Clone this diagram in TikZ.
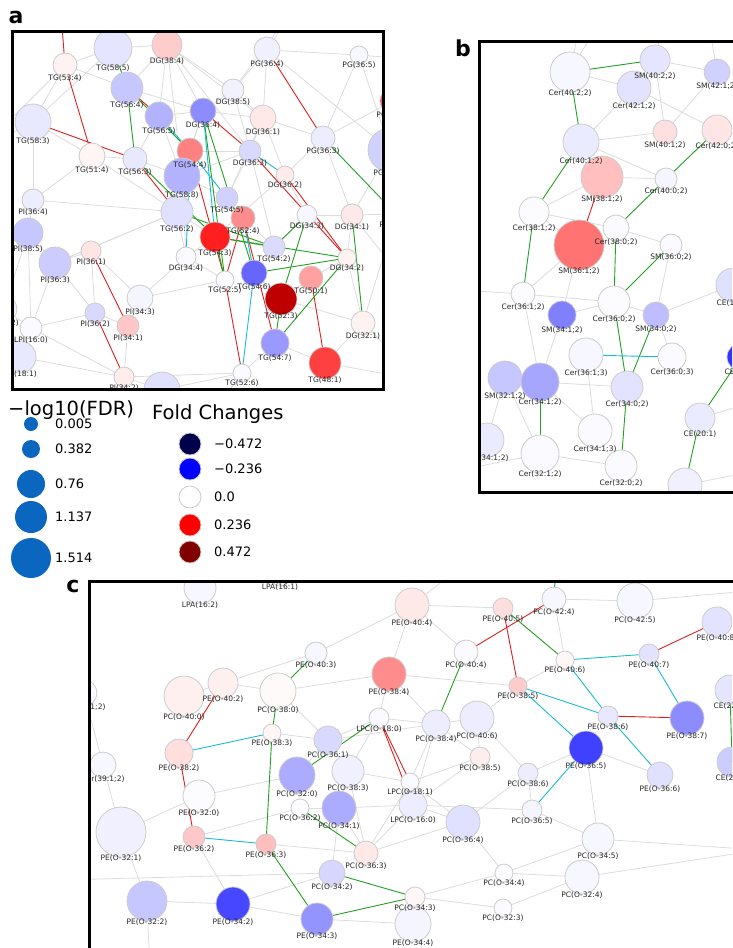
\documentclass[tikz,border=0pt]{standalone}
\usepackage{fontspec}
\setmainfont{DejaVu Sans}
\usetikzlibrary{positioning}
\definecolor{edgegrey}{HTML}{DCDCDC}
\definecolor{edgered}{HTML}{DC2020}
\definecolor{edgegreen}{HTML}{22A022}
\definecolor{edgecyan}{HTML}{18BCD0}
\definecolor{nodering}{HTML}{CCCCCC}
\definecolor{fdrblue}{HTML}{0A66BE}
\definecolor{fcnavy}{HTML}{00004C}
\definecolor{fcdark}{HTML}{800000}

% lipid lists: name/x/y/radius/fill/label
\def\lipidsA{tg534/65/65/12/red!5/TG(53:4),
  tg585/113/48/19/blue!10/TG(58:5),
  dg384/167/45/15/red!20/DG(38:4),
  tg564/127/88/16/blue!22/TG(56:4),
  tg583/33/122/18/blue!9/TG(58:3),
  tg565/159/116/14/blue!30/TG(56:5),
  dg364/203/111/13/blue!45/DG(36:4),
  tg544/190/151/13/red!50/TG(54:4),
  tg514/92/156/13/red!4/TG(51:4),
  tg563/135/159/12/blue!9/TG(56:3),
  tg588/182/176/18/blue!30/TG(58:8),
  pi364/33/200/11/blue!7/PI(36:4),
  tg562/177/212/16/blue!12/TG(56:2),
  pg364/267/50/13/blue!6/PG(36:4),
  pg365/359/55/9/blue!3/PG(36:5),
  dg385/233/90/11/blue!5/DG(38:5),
  dg361/263/118/13/red!9/DG(36:1),
  pg363/323/138/12/blue!7/PG(36:3),
  dg363/250/151/11/blue!15/DG(36:3),
  dg362/285/175/9/red!8/DG(36:2),
  pg341/393/101/13/red/PG(34:1),
  pg342/390/150/22/blue!18/PG(34:2),
  pg343/396/214/10/blue!5/PG(34:3),
  tg545/227/198/11/blue!18/TG(54:5),
  pi385/28/233/15/blue!22/PI(38:5),
  pi363/55/263/16/blue!20/PI(36:3),
  pi361/91/251/10/red!10/PI(36:1),
  pi343/140/298/13/blue!4/PI(34:3),
  pi362/95/313/10/blue!15/PI(36:2),
  pi341/128/326/11/red!22/PI(34:1),
  lpi160/31/328/11/blue!2/LPI(16:0),
  pi382/4/309/13/blue!6/PI(38:2),
  lpi181/20/357/16/blue!9/LPI(18:1),
  pi342/124/377/10/red!7/PI(34:2),
  pi321/162/390/18/blue!12/{},
  dg344/186/257/10/blue!2/DG(34:4),
  tg524/243/218/12/red!45/TG(52:4),
  tg543/215/237/15/red!88/TG(54:3),
  tg542/274/247/11/blue!14/TG(54:2),
  dg343/307/215/10/blue!3/DG(34:3),
  dg341/352/215/11/red!9/DG(34:1),
  dg342/347/258/9/red!5/DG(34:2),
  tg525/225/280/9/blue!2/TG(52:5),
  tg546/254/273/13/blue!60/TG(54:6),
  tg501/311/278/12/red!37/TG(50:1),
  tg523/281/299/16/red!75!black/TG(52:3),
  tg547/275/343/14/blue!40/TG(54:7),
  dg321/363/323/12/red!5/DG(32:1),
  tg526/242/373/9/blue!2/TG(52:6),
  tg481/325/363/16/red!75/TG(48:1)}

\def\lipidsB{cer4022/570/72/20/blue!3/Cer(40:2;2),
  sm4022/655/60/15/blue!10/SM(40:2;2),
  sm4212/717/72/13/blue!18/SM(42:1;2),
  cer4212/634/88/17/blue!11/Cer(42:1;2),
  sm4012/665/132/12/red!12/SM(40:1;2),
  cer4202/717/130/15/red!10/Cer(42:0;2),
  cer4012/581/142/18/blue!8/Cer(40:1;2),
  sm3812/602/177/21/red!25/SM(38:1;2),
  cer4002/666/179/11/blue!4/Cer(40:0;2),
  cer3812/534/212/15/blue!1/Cer(38:1;2),
  sm3612/579/245/25/red!55/SM(36:1;2),
  cer3802/616/228/13/blue!2/Cer(38:0;2),
  sm3602/671/245/11/blue!2/SM(36:0;2),
  cer3612/523/294/12/blue!1/Cer(36:1;2),
  cer3602/614/302/16/blue!1/Cer(36:0;2),
  sm3412/562/315/14/blue!50/SM(34:1;2),
  sm3402/656/315/13/blue!26/SM(34:0;2),
  cer3613/586/355/17/blue!3/Cer(36:1;3),
  cer3603/672/357/14/blue!2/Cer(36:0;3),
  sm3212/505/378/17/blue!22/SM(32:1;2),
  cer3412/540/382/19/blue!35/Cer(34:1;2),
  cer3402/627/387/16/blue!11/Cer(34:0;2),
  ce201/700/418/15/blue!8/CE(20:1),
  cer3413/595/431/17/blue!2/Cer(34:1;3),
  cer3212/540/454/19/blue!2/Cer(32:1;2),
  cer3202/621/466/16/blue!2/Cer(32:0;2),
  cerx/487/440/17/blue!8/Cer(34:1;2),
  ce181/733/285/17/blue!12/CE(18:1),
  ce182/741/357/14/blue!80/CE(18:2),
  ce203/685/485/17/blue!6/{}}

\def\lipidsC{lpa162/200/588/16/blue!3/LPA(16:2),
  lpa161/280/576/10/blue!3/LPA(16:1),
  peo402/223/683/15/red!6/PE(O-40:2),
  pco400/184/696/20/red!6/PC(O-40:0),
  pco380/278/691/18/red!2/PC(O-38:0),
  peo403/316/653/11/blue!3/PE(O-40:3),
  peo383/272/733/9/red!4/PE(O-38:3),
  peo382/179/753/14/red!13/PE(O-38:2),
  cer3812c/84/693/13/blue!2/Cer(38:1;2),
  cer3912/103/765/13/blue!3/Cer(39:1;2),
  peo404/412/605/17/red!9/PE(O-40:4),
  peo405/503/608/10/red!13/PE(O-40:5),
  pco404/466/652/12/blue!2/PC(O-40:4),
  peo384/389/674/17/red!45/PE(O-38:4),
  peo385/518/686/9/red!20/PE(O-38:5),
  lpco180/379/718/10/blue!2/LPC(O-18:0),
  pco384/436/724/14/blue!7/PC(O-38:4),
  pco406/477/718/17/blue!7/PC(O-40:6),
  pco361/328/740/14/blue!15/PC(O-36:1),
  pco385/480/757/10/red!7/PC(O-38:5),
  pco424/554/599/12/blue!3/PC(O-42:4),
  pco425/635/601/18/blue!3/PC(O-42:5),
  peo408/717/622/15/blue!11/PE(O-40:8),
  peo406/565/660/9/red!3/PE(O-40:6),
  peo407/649/654/10/blue!11/PE(O-40:7),
  peo386/608/716/10/blue!9/PE(O-38:6),
  peo387/687/718/17/blue!45/PE(O-38:7),
  peo365/586/748/17/blue!75/PE(O-36:5),
  ce226/730/690/15/blue!10/CE(22:6),
  ce225/732/762/15/blue!20/CE(22:5),
  peo320/199/796/16/blue!1/PE(O-32:0),
  peo321/121/832/25/blue!6/PE(O-32:1),
  peo362/194/837/11/red!22/PE(O-36:2),
  peo363/266/844/10/red!25/PE(O-36:3),
  peo322/147/901/20/blue!22/PE(O-32:2),
  peo342/233/904/17/blue!72/PE(O-34:2),
  peo343/317/919/16/blue!42/PE(O-34:3),
  pco320/297/775/18/blue!33/PC(O-32:0),
  pco383/348/771/16/blue!6/PC(O-38:3),
  lpco181/410/782/9/blue!2/LPC(O-18:1),
  lpco160/413/805/14/blue!7/LPC(O-16:0),
  pco362/300/808/9/blue!1/PC(O-36:2),
  pco341/339/808/17/blue!33/PC(O-34:1),
  pco364/463/822/17/blue!12/PC(O-36:4),
  pco363/366/853/12/red!9/PC(O-36:3),
  pco342/332/873/13/blue!16/PC(O-34:2),
  pco344/504/873/9/blue!1/PC(O-34:4),
  pco343/415/897/10/red!3/PC(O-34:3),
  pco323/503/908/9/blue!2/PC(O-32:3),
  peo344/413/924/18/blue!4/PE(O-34:4),
  pco386/528/773/10/blue!7/PC(O-38:6),
  pco365/532/810/10/blue!4/PC(O-36:5),
  peo366/660/775/13/blue!12/PE(O-36:6),
  pco345/598/839/16/blue!3/PC(O-34:5),
  pco324/582/877/17/blue!3/PC(O-32:4)}

\begin{document}
\begin{tikzpicture}[
    x=1pt, y=-1pt,
    % node styles
    lipid/.style={circle, draw=nodering, line width=0.8pt, inner sep=0pt},
    lab/.style={font=\fontsize{7.5}{8}\selectfont, inner sep=0pt, text=black!85},
    frame/.style={draw=black, line width=3pt},
    panel/.style={font=\fontsize{22}{24}\selectfont\bfseries, inner sep=0pt},
    legtitle/.style={font=\fontsize{19.5}{22}\selectfont, inner sep=0pt},
    legnum/.style={font=\fontsize{13}{15}\selectfont, inner sep=0pt},
    % edge styles
    gedge/.style={draw=edgegrey, line width=0.8pt},
    redge/.style={draw=edgered, line width=0.9pt},
    gnedge/.style={draw=edgegreen, line width=0.9pt},
    cyedge/.style={draw=edgecyan, line width=0.9pt},
]
\path[use as bounding box] (0,0) rectangle (732,948);

% ============================================================================
% PANEL A : glycerolipids
% ============================================================================
\begin{scope}
\clip (13.5,32.5) rectangle (381.5,387.5);
\foreach \nm/\x/\y/\rad/\col/\txt in \lipidsA {\coordinate (\nm) at (\x,\y);}
% free ends leaving the frame
\coordinate (oa0) at (60,0);   \coordinate (oa1) at (150,0);
\coordinate (oa2) at (300,0);  \coordinate (oa3) at (420,60);
\coordinate (oa4) at (420,300); \coordinate (oa5) at (-20,150);
\coordinate (oa6) at (-20,260); \coordinate (oa7) at (200,430);
\coordinate (oa8) at (420,380);

\foreach \a/\b in {tg585/tg534, tg585/dg384, tg585/tg564, tg585/tg583, dg384/tg564,
  dg384/dg364, dg384/dg385, dg384/tg565, dg384/dg363, dg384/dg361, dg384/tg588,
  tg534/tg583, tg534/tg564, tg583/pi364, tg583/tg514, tg514/tg563, tg514/pi364,
  tg563/tg588, tg563/tg565, tg564/dg364, tg565/dg364, tg565/tg588, dg364/dg385,
  dg364/dg361, dg364/tg544, dg385/pg364, dg385/dg361, dg385/dg363, pg364/pg365,
  pg364/dg361, pg364/pg342, pg365/pg342, pg365/pg363, dg361/pg363, dg361/dg362,
  dg361/dg363, pg363/dg362, pg363/dg341, pg363/pg341, dg363/tg544, dg363/tg588,
  dg362/tg543, dg362/dg343, tg588/tg562, tg588/tg545, tg562/pi364, tg562/pi363,
  tg562/dg344, tg562/tg543, dg344/pi343, dg344/tg525, dg344/tg543, tg545/tg524,
  tg545/dg363, tg524/tg542, tg542/dg343, dg343/dg341, dg341/dg342, dg342/tg501,
  dg342/dg321, tg501/tg523, tg523/tg546, tg523/dg321, tg547/tg526, tg547/tg481,
  tg481/dg321, tg526/pi342, pi364/pi385, pi385/pi363, pi385/lpi160, pi385/pi382,
  pi363/pi361, pi363/lpi160, pi363/pi362, pi361/pi343, pi361/pi362, pi343/pi341,
  pi343/tg525, pi362/lpi160, pi362/pi341, lpi160/lpi181, lpi160/pi342, lpi181/pi342,
  pi342/pi321, pi341/pi342, pi321/tg526, pi382/lpi160, pi382/lpi181, tg514/tg562,
  tg585/oa1, pg364/oa2, pg365/oa3, dg341/oa4, tg583/oa5, pi385/oa6, tg526/oa7,
  dg321/oa8, tg481/oa8, dg385/oa2, tg534/oa5, dg364/tg588, dg363/tg542, pg342/dg341,
  pi363/tg562, tg588/dg344, dg361/tg545, pg343/dg341, pg343/dg321}
  \draw[gedge] (\a) -- (\b);
\foreach \a/\b in {tg534/oa0, tg534/tg514, tg583/tg563, tg564/tg565, tg563/tg562,
  pg364/pg363, dg364/dg363, dg363/dg342, dg362/dg342, tg524/tg525, tg544/tg525,
  tg525/tg526, tg524/tg547, tg501/tg481, pi361/pi341, pi362/pi342}
  \draw[redge] (\a) -- (\b);
\foreach \a/\b in {tg585/tg564, tg564/tg563, tg564/tg544, tg563/tg543, dg364/tg525,
  dg364/tg546, tg543/tg542, tg543/dg342, tg543/tg525, tg546/dg342, tg523/dg343,
  tg547/tg523, tg547/dg342, dg341/dg321, dg343/tg542, pg363/pg343, tg562/tg542}
  \draw[gnedge] (\a) -- (\b);
\foreach \a/\b in {tg565/tg544, tg544/tg545, dg363/dg362, tg544/dg344, tg546/tg526,
  dg364/tg543, tg524/tg546}
  \draw[cyedge] (\a) -- (\b);

\foreach \nm/\x/\y/\rad/\col/\txt in \lipidsA
  \node[lipid, fill=\col, minimum size={2*\rad*1pt}] at (\nm) {};
\foreach \nm/\x/\y/\rad/\col/\txt in \lipidsA
  \node[lab] at (\x,{\y+\rad+1}) {\txt};
\end{scope}
\draw[frame] (12,31) rectangle (383,389);
\node[panel] (tagA) at (16,17) {a};

% ============================================================================
% PANEL B : sphingolipids
% ============================================================================
\begin{scope}
\clip (480.5,43) rectangle (732,490.5);
\foreach \nm/\x/\y/\rad/\col/\txt in \lipidsB {\coordinate (\nm) at (\x,\y);}
\coordinate (tb1) at (585,0);  \coordinate (tb2) at (612,0);
\coordinate (tb3) at (668,0);  \coordinate (tb4) at (705,0);
\coordinate (lb1) at (460,290); \coordinate (lb2) at (460,470);
\coordinate (rb1) at (760,400); \coordinate (rb2) at (760,470);

\foreach \a/\b in {cer4022/cer4212, cer4022/tb1, cer4022/tb2, sm4022/sm4212,
  sm4022/sm4012, sm4022/tb3, cer4212/cer4012, cer4212/cer4202, sm4212/sm4012,
  sm4212/tb4, cer4012/sm4012, cer4012/cer4002, sm3812/cer3812, sm3812/cer4012,
  cer4002/sm3812, cer3812/cer3802, cer3812/sm3612, cer3802/sm3602, sm3612/cer3612,
  sm3612/sm3412, cer3612/cer3602, cer3612/lb1, cer3612/cer3412, sm3412/cer3412,
  sm3412/cer3602, cer3602/sm3402, sm3402/cer3603, cer3613/cer3413, cer3412/cer3402,
  cer3412/sm3212, sm3212/cer3212, sm3212/cerx, cer3212/cer3202, sm3602/sm3402,
  ce201/rb1, ce203/rb2, cer3212/lb2, cer3412/cer3413, ce181/sm3402}
  \draw[gedge] (\a) -- (\b);
\draw[redge] (sm3812) -- (sm3612);
\foreach \a/\b in {cer4022/sm4022, cer4022/cer4012, cer4012/cer3812, cer4202/cer4002,
  cer4002/cer3802, cer3812/cer3612, cer3802/cer3602, sm3602/cer3602, cer3602/cer3402,
  sm3402/cer3402, cer3412/cer3212, cer3402/cer3202, ce182/ce201, ce201/ce203}
  \draw[gnedge] (\a) -- (\b);
\draw[cyedge] (cer3613) -- (cer3603);

\foreach \nm/\x/\y/\rad/\col/\txt in \lipidsB
  \node[lipid, fill=\col, minimum size={2*\rad*1pt}] at (\nm) {};
\foreach \nm/\x/\y/\rad/\col/\txt in \lipidsB
  \node[lab] at (\x,{\y+\rad+1}) {\txt};
\end{scope}
\draw[frame] (479,41.5) rectangle (740,492);
\node[panel] (tagB) at (463,48) {b};

% ============================================================================
% PANEL C : ether lipids
% ============================================================================
\begin{scope}
\clip (91,583) rectangle (732,948);
\foreach \nm/\x/\y/\rad/\col/\txt in \lipidsC {\coordinate (\nm) at (\x,\y);}
\coordinate (oc1) at (556,560); \coordinate (oc2) at (60,660);
\coordinate (oc3) at (470,560); \coordinate (oc4) at (760,590);
\coordinate (oc5) at (760,660); \coordinate (oc6) at (760,850);
\coordinate (oc7) at (430,970); \coordinate (oc8) at (60,880);
\coordinate (oc9) at (150,970);

\foreach \a/\b in {peo402/peo403, peo402/pco380, peo402/pco400, pco380/pco361,
  peo383/pco361, cer3812c/cer3912, cer3812c/oc2, peo403/peo404, peo404/peo405,
  peo404/peo384, peo404/pco404, peo404/oc3, peo384/peo385, peo384/pco384,
  lpco180/peo384, lpco180/pco384, lpco180/pco361, lpco180/pco383, pco384/pco406,
  pco384/pco385, pco384/lpco160, pco384/lpco181, pco406/peo385, pco406/pco385,
  pco406/pco386, pco424/pco425, pco424/peo406, peo406/peo385, pco425/oc4,
  peo408/oc5, peo365/pco386, peo365/peo366, peo365/pco345, peo320/peo321,
  peo320/pco320, peo321/peo322, peo321/cer3912, peo362/peo342, peo362/pco362,
  peo363/pco363, peo322/peo342, peo342/peo343, peo342/pco342, pco320/pco362,
  pco320/pco361, pco383/lpco181, pco383/pco341, pco383/pco361, pco341/lpco160,
  pco341/pco342, pco341/pco362, pco363/lpco160, pco363/lpco181, pco363/pco364,
  pco363/pco383, lpco160/pco364, lpco160/pco385, lpco181/pco385, pco364/pco344,
  pco364/pco386, pco344/pco343, pco344/pco345, pco343/pco323, pco343/peo344,
  pco323/pco324, pco344/pco324, pco365/pco345, pco365/pco386, lpco160/pco365,
  pco345/oc6, pco324/oc6, peo344/oc7, peo343/peo344, pco342/oc8, peo322/oc9,
  peo384/pco380, pco361/pco384, lpco181/pco364, pco341/pco363}
  \draw[gedge] (\a) -- (\b);
\foreach \a/\b in {peo402/peo382, peo382/peo362, pco404/pco424, peo405/peo385,
  peo407/peo408, peo386/peo387, lpco180/lpco181, lpco180/lpco160}
  \draw[redge] (\a) -- (\b);
\foreach \a/\b in {peo383/pco380, peo403/pco380, peo383/peo363, peo363/peo343,
  pco404/pco384, peo405/peo406, pco424/oc1, lpco180/pco320, pco362/pco363,
  pco342/pco343, peo343/pco343, ce226/ce225}
  \draw[gnedge] (\a) -- (\b);
\foreach \a/\b in {peo382/peo383, peo362/peo363, peo406/peo407, peo406/peo386,
  peo385/peo386, peo385/peo365, peo407/peo387, peo386/peo366, peo365/pco365}
  \draw[cyedge] (\a) -- (\b);

\foreach \nm/\x/\y/\rad/\col/\txt in \lipidsC
  \node[lipid, fill=\col, minimum size={2*\rad*1pt}] at (\nm) {};
\foreach \nm/\x/\y/\rad/\col/\txt in \lipidsC
  \node[lab] at (\x,{\y+\rad+1}) {\txt};
\end{scope}
\draw[frame] (89.5,581.5) rectangle (740,960);
\node[panel] (tagC) at (73,586) {c};

% ============================================================================
% LEGENDS
% ============================================================================
\node[legtitle, anchor=west] (fdrtitle) at (8,410) {−log10(FDR)};
\foreach \y/\rad/\v [count=\i] in {424/7/0.005, 449/9/0.382, 484/14/0.76,
  517/16/1.137, 558/20/1.514} {
  \node[circle, fill=fdrblue, inner sep=0pt, minimum size={2*\rad*1pt}] (fdr\i) at (31,\y) {};
  \node[legnum, anchor=west] at (55,\y) {\v};
}
\node[legtitle, anchor=west] (fctitle) at (152,414) {Fold Changes};
\foreach \y/\col/\v [count=\i] in {444/fcnavy/−0.472, 469/blue/−0.236, 497/white/0.0,
  525/red/0.236, 552/fcdark/0.472} {
  \node[lipid, fill=\col, minimum size=22pt] (fc\i) at (190,\y) {};
  \node[legnum, anchor=west] at (214,\y) {\v};
}
\end{tikzpicture}
\end{document}
